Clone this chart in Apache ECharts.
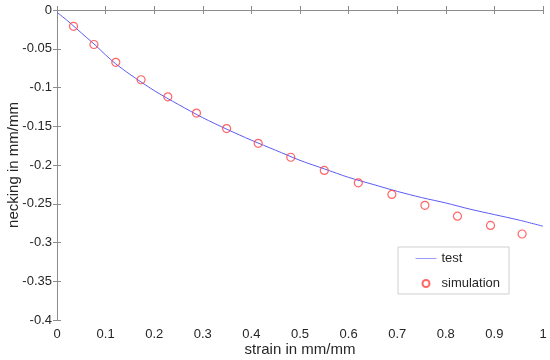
<!DOCTYPE html>
<html>
<head>
<meta charset="utf-8">
<script src="https://cdn.jsdelivr.net/npm/echarts@6/dist/echarts.min.js"></script>
<style>
html,body{margin:0;padding:0;background:#fff;}
#c{width:550px;height:360px;}
</style>
</head>
<body>
<div id="c"></div>
<script>
// Test curve (strain, necking)
var testStrain = [0, 0.02, 0.04, 0.06, 0.08, 0.10, 0.12, 0.15, 0.20, 0.25, 0.30, 0.35, 0.40, 0.45, 0.50, 0.55, 0.60, 0.65, 0.70, 0.75, 0.80, 0.85, 0.90, 0.95, 1.00];
var testNecking = [-0.003, -0.013, -0.024, -0.035, -0.046, -0.058, -0.069, -0.083, -0.104, -0.122, -0.139, -0.154, -0.168, -0.181, -0.194, -0.205, -0.216, -0.225, -0.234, -0.242, -0.249, -0.257, -0.264, -0.271, -0.279];
// Simulation points
var simStrain = [0.034, 0.076, 0.121, 0.173, 0.228, 0.287, 0.349, 0.414, 0.481, 0.550, 0.620, 0.689, 0.757, 0.824, 0.892, 0.957];
var simNecking = [-0.021, -0.0445, -0.0675, -0.090, -0.112, -0.133, -0.153, -0.172, -0.190, -0.207, -0.223, -0.238, -0.252, -0.266, -0.278, -0.289];
var xTicks = [0, 0.1, 0.2, 0.3, 0.4, 0.5, 0.6, 0.7, 0.8, 0.9, 1];
var yTicks = [0, -0.05, -0.1, -0.15, -0.2, -0.25, -0.3, -0.35, -0.4];

var testData = testStrain.map(function (x, i) { return [x, testNecking[i]]; });
var simData = simStrain.map(function (x, i) { return [x, simNecking[i]]; });

var font = 'Liberation Sans, Arial, sans-serif';
var axisCol = '#8c8c8c';
var txtCol = '#262626';
var fmt = function (v) { return String(+v.toFixed(2)); };

var chart = echarts.init(document.getElementById('c'), null, {renderer: 'canvas'});
chart.setOption({
  backgroundColor: '#ffffff',
  animation: false,
  grid: {left: 57, right: 7, top: 10, bottom: 40, containLabel: false, outerBoundsMode: 'none'},
  legend: {
    orient: 'vertical',
    left: 398, top: 247,
    padding: [5, 9, 4, 17],
    itemWidth: 21, itemHeight: 7, itemGap: 12,
    backgroundColor: '#ffffff',
    borderColor: '#cfcfcf', borderWidth: 1, borderRadius: 0,
    textStyle: {fontFamily: font, fontSize: 13, color: txtCol},
    data: [
      {name: 'test', itemStyle: {color: 'rgba(0,0,0,0)', borderColor: 'rgba(0,0,0,0)', borderWidth: 0},
       lineStyle: {color: '#9a9af8', width: 1}},
      {name: 'simulation'}
    ]
  },
  xAxis: [{
    type: 'value', min: 0, max: 1, interval: 0.1,
    name: 'strain in mm/mm', nameLocation: 'middle', nameGap: 22, nameMoveOverlap: false,
    nameTextStyle: {fontFamily: font, fontSize: 15, color: txtCol},
    axisLine: {show: true, lineStyle: {color: axisCol, width: 1}},
    axisTick: {show: true, inside: true, length: 4, lineStyle: {color: axisCol}},
    axisLabel: {fontFamily: font, fontSize: 13, color: txtCol, margin: 8, formatter: fmt},
    splitLine: {show: false}
  }, {
    type: 'value', min: 0, max: 1, interval: 0.1, position: 'top',
    axisLine: {show: true, lineStyle: {color: axisCol, width: 1}},
    axisTick: {show: true, inside: true, length: 4, lineStyle: {color: axisCol}},
    axisLabel: {show: false}, splitLine: {show: false}
  }],
  yAxis: [{
    type: 'value', min: -0.4, max: 0, interval: 0.05,
    name: 'necking in mm/mm', nameLocation: 'middle', nameGap: 36, nameMoveOverlap: false,
    nameTextStyle: {fontFamily: font, fontSize: 15, color: txtCol},
    axisLine: {show: true, lineStyle: {color: axisCol, width: 1}},
    axisTick: {show: true, inside: true, length: 4, lineStyle: {color: axisCol}},
    axisLabel: {fontFamily: font, fontSize: 13, color: txtCol, margin: 5, formatter: fmt},
    splitLine: {show: false}
  }, {
    type: 'value', min: -0.4, max: 0, interval: 0.05, position: 'right',
    axisLine: {show: true, lineStyle: {color: axisCol, width: 1}},
    axisTick: {show: true, inside: true, length: 4, lineStyle: {color: axisCol}},
    axisLabel: {show: false}, splitLine: {show: false}
  }],
  series: [{
    name: 'test', type: 'line', data: testData,
    symbol: 'none', smooth: 0.3,
    lineStyle: {color: '#5c5cf5', width: 1},
    itemStyle: {color: '#5c5cf5'},
    z: 2
  }, {
    name: 'simulation', type: 'scatter', data: simData,
    symbol: 'circle', symbolSize: 8,
    itemStyle: {color: 'rgba(255,255,255,0)', borderColor: '#ff4040', borderWidth: 1.2},
    z: 3
  }]
});
</script>
</body>
</html>
